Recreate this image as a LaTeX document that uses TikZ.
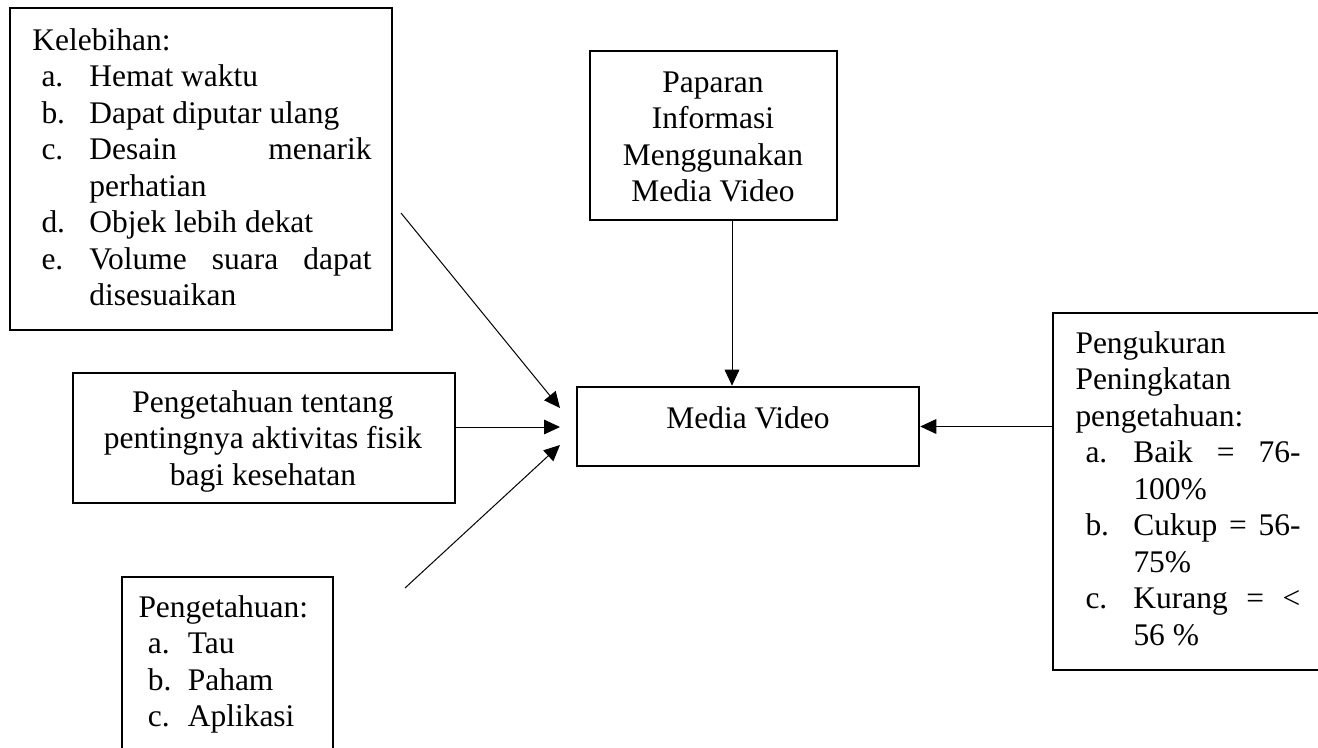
\documentclass[tikz,border=0pt]{standalone}
\usepackage{fontspec}
\setmainfont{Liberation Serif}
\usetikzlibrary{arrows.meta,fit}

\tikzset{every picture/.style={line width=0.75pt}}
\tikzset{
  box/.style={draw, line width=1.9pt, inner sep=0pt},
  txt/.style={inner sep=0pt, font=\fontsize{23.6}{27.4}\selectfont},
  arr/.style={-{Triangle[length=12pt,width=11pt]}}
}
\newlength{\butirindent}
\newlength{\butirlabel}
\newcommand{\butir}[2]{\hspace*{\butirindent}\makebox[\butirlabel][l]{#1}#2}

\begin{document}
\begin{tikzpicture}[x=0.75pt,y=0.75pt,yscale=-1,xscale=1]
\useasboundingbox (0,0) rectangle (1318,747);
\clip (0,0) rectangle (1318,747);

%Boxes
\node[box, fit={(10,8) (392,330)}] (kelebihan) {};
\node[box, fit={(590,51) (837,220)}] (paparan) {};
\node[box, fit={(73,373) (455,503)}] (tentang) {};
\node[box, fit={(577,387) (919,466)}] (media) {};
\node[box, fit={(1053,313) (1340,670)}] (ukur) {};
\node[box, fit={(122,577) (333,770)}] (tahu) {};

% Text Node
\node[txt, anchor=base west] (kelebihan-txt) at (32,50) {\setlength{\butirindent}{6.75pt}\setlength{\butirlabel}{36pt}%
\parbox[t]{254pt}{Kelebihan:\\
\butir{a.}{Hemat waktu}\\
\butir{b.}{Dapat diputar ulang}\\
\butir{c.}{\makebox[211.5pt][s]{Desain menarik}}\\
\butir{}{perhatian}\\
\butir{d.}{Objek lebih dekat}\\
\butir{e.}{\makebox[211.5pt][s]{Volume suara dapat}}\\
\butir{}{disesuaikan}}};
% Text Node
\node[txt, anchor=base] (paparan-txt) at (713,92) {\parbox[t]{200pt}{\centering Paparan\\Informasi\\Menggunakan\\Media Video}};
% Text Node
\node[txt, anchor=base] (tentang-txt) at (263,412) {\parbox[t]{300pt}{\centering Pengetahuan tentang\\pentingnya aktivitas fisik\\bagi kesehatan}};
% Text Node
\node[txt, anchor=base] (media-txt) at (748,428) {Media Video};
% Text Node
\node[txt, anchor=base west] (ukur-txt) at (1075,353) {\setlength{\butirindent}{7.5pt}\setlength{\butirlabel}{36pt}%
\parbox[t]{170pt}{Pengukuran\\
Peningkatan\\
pengetahuan:\\
\butir{a.}{\makebox[125.25pt][s]{Baik = 76-}}\\
\butir{}{100\%}\\
\butir{b.}{\makebox[125.25pt][s]{Cukup = 56-}}\\
\butir{}{75\%}\\
\butir{c.}{\makebox[125.25pt][s]{Kurang = <}}\\
\butir{}{56 \%}}};
% Text Node
\node[txt, anchor=base west] (tahu-txt) at (138,617) {\setlength{\butirindent}{7pt}\setlength{\butirlabel}{30pt}%
\parbox[t]{150pt}{Pengetahuan:\\
\butir{a.}{Tau}\\
\butir{b.}{Paham}\\
\butir{c.}{Aplikasi}}};

%Free ends of the connectors
\coordinate (kel-out) at (401,213);
\coordinate (tahu-out) at (405,588);
\coordinate (in-top) at (560,408);
\coordinate (in-mid) at (560,427);
\coordinate (in-low) at (560,445);
\coordinate (down-x) at (732,0);

%Connectors
\draw[arr] (kel-out) -- (in-top);
\draw[arr] (tentang.east |- in-mid) -- (in-mid);
\draw[arr] (tahu-out) -- (in-low);
\draw[arr] (paparan.south -| down-x) -- (media.north -| down-x);
\draw[arr] (ukur.west |- media.east) -- (media.east);

\end{tikzpicture}
\end{document}
